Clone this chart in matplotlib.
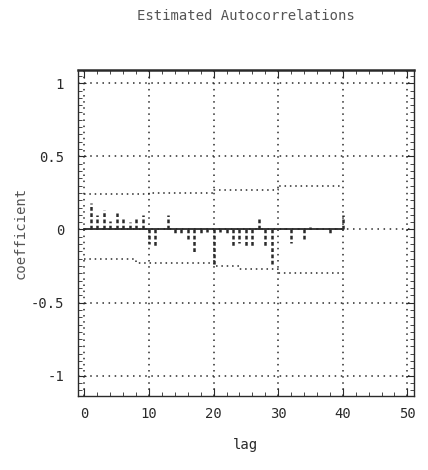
import matplotlib.pyplot as plt
from matplotlib.ticker import MultipleLocator

# estimated autocorrelations for lags 1..40
lags = list(range(1, 41))
acf = [0.18, 0.10, 0.13, 0.06, 0.11, 0.08, 0.05, 0.07, 0.10, -0.10,
       -0.11, 0.00, 0.10, -0.03, -0.04, -0.08, -0.16, -0.03, -0.02, -0.24,
       -0.02, -0.03, -0.12, -0.09, -0.12, -0.11, 0.07, -0.12, -0.24, 0.00,
       0.01, -0.09, 0.01, -0.07, 0.02, 0.01, 0.00, -0.04, 0.01, 0.10]

# confidence band (step shaped)
band_lags = [0, 8, 10, 20, 24, 30, 40]
band_upper = [0.24, 0.24, 0.25, 0.27, 0.27, 0.30, 0.30]
band_lower = [-0.205, -0.23, -0.23, -0.25, -0.27, -0.30, -0.30]

x_ticks = [0, 10, 20, 30, 40, 50]
y_ticks = [-1, -0.5, 0, 0.5, 1]
y_labels = ["-1", "-0.5", "0", "0.5", "1"]

ink = "#2a2a2a"
plt.rcParams["font.family"] = "DejaVu Sans Mono"

fig = plt.figure(figsize=(4.28, 4.70), dpi=100)
ax = fig.add_axes([0.182, 0.157, 0.785, 0.694])

ax.vlines(lags, 0, acf, colors=ink, linewidth=1.8, linestyles=(0, (1.5, 1)))
ax.plot([0, 40], [0, 0], color=ink, linewidth=1.3)
ax.step(band_lags, band_upper, where="post", color=ink, linewidth=1.1, linestyle=(0, (1, 2.5)))
ax.step(band_lags, band_lower, where="post", color=ink, linewidth=1.1, linestyle=(0, (1, 2.5)))

ax.set_xlim(-1, 51)
ax.set_ylim(-1.14, 1.09)
ax.set_xticks(x_ticks)
ax.set_yticks(y_ticks)
ax.set_yticklabels(y_labels)
ax.xaxis.set_minor_locator(MultipleLocator(2))
ax.yaxis.set_minor_locator(MultipleLocator(0.05))
ax.tick_params(which="both", direction="in", colors=ink, labelsize=10,
               top=True, right=True)
ax.tick_params(which="major", length=6)
ax.tick_params(which="minor", length=3)
ax.tick_params(axis="x", pad=8)
ax.tick_params(axis="y", pad=10)
ax.grid(True, which="major", color=ink, linestyle=(0, (1, 3)), linewidth=1.1)

for side in ["left", "bottom", "right"]:
    ax.spines[side].set_color(ink)
    ax.spines[side].set_linewidth(1.0)
ax.spines["top"].set_color(ink)
ax.spines["top"].set_linewidth(1.8)

ax.set_title("Estimated Autocorrelations", fontsize=10, color="#555555", pad=36)
ax.set_xlabel("lag", fontsize=10, color=ink, labelpad=12)
ax.set_ylabel("coefficient", fontsize=10, color="#555555", labelpad=2)

fig.savefig("out.png", dpi=100, facecolor="white")
